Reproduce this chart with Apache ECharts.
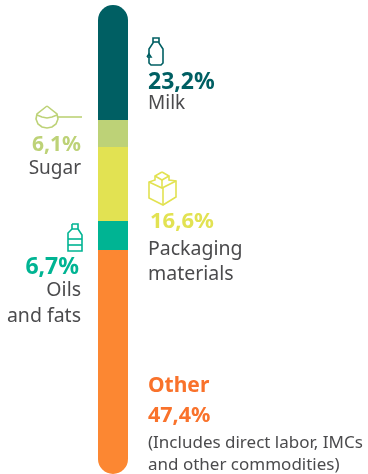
<!DOCTYPE html>
<html><head><meta charset="utf-8">
<style>html,body{margin:0;padding:0;background:#fff}#c{width:368px;height:474px}</style>
<script src="https://cdn.jsdelivr.net/npm/echarts@6/dist/echarts.min.js"></script>
</head><body><div id="c"></div>
<script>
var segmentNames = ['Milk','Sugar','Packaging materials','Oils and fats','Other'];
// lengths of the bar's segments as measured in the picture
var segmentLengths = [115, 27, 74, 29, 224];
var segmentColors = ['#005F63','#BDD277','#E2E252','#00B493','#FC8732'];
var pctLabels = ['23,2%','6,1%','16,6%','6,7%','47,4%'];

var FONT = '"Noto Sans", sans-serif', GREY = '#4B4B4D';
function t(text, x, y, size, color, weight, align){
  return {type:'text', x:x, y:y, silent:true, style:{text:text, fontFamily:FONT, fontSize:size,
    fill:color, fontWeight:weight||'normal', textAlign:align||'left', textVerticalAlign:'middle'}};
}
function icon(lines, x, y, color){
  return {type:'group', x:x, y:y, silent:true, children:lines.map(function(p){
    return {type:'polyline', silent:true, shape:{points:p}, style:{fill:null, stroke:color, lineWidth:1.6}};
  })};
}
var n = segmentLengths.length;
var series = segmentLengths.map(function(v,i){
  return {type:'bar', stack:'a', barWidth:30, name:segmentNames[i], data:[v], silent:true,
    itemStyle:{color:segmentColors[i],
      borderRadius: i===0 ? [15,15,0,0] : (i===n-1 ? [0,0,15,15] : 0)}};
});
var bottleIcon = [[[1,19],[1,25],[3,27],[13,27],[15,25],[15,11],[11,5],[11,0],[5,0],[5,5],[1,11],[1,16]],[[-1,19],[1,16],[3,19],[-1,19]],[[5,4],[11,4]]];
var boxIcon = [[[14,0],[21,4],[21,8],[28,9],[28,25],[15,33],[1,26],[1,10],[7,8],[7,4],[14,0]],[[7,4],[14,8],[21,4]],[[14,8],[14,15]],[[1,10],[14,16],[28,9]],[[15,16],[15,33]]];
var scoopIcon = [[[11,0],[21,8],[22,13],[20,18],[16,21],[11,22],[6,21],[2,18],[0,13],[1,8],[11,0]],[[1,9],[6,11],[11,12],[16,11],[21,9]],[[22,11],[46,11]]];
var oilIcon = [[[5,0],[11,0],[11,5],[5,5],[5,0]],[[5,5],[1,9],[1,27],[15,27],[15,11],[11,5]],[[1,15],[15,15]],[[1,21],[15,21]]];
var graphic = [
  icon(bottleIcon,148,38,segmentColors[0]),
  t(pctLabels[0],148,82,23,segmentColors[0],'bold'),
  t(segmentNames[0],148,104,19,GREY),
  icon(scoopIcon,36,106,segmentColors[1]),
  t(pctLabels[1],81,145,21,segmentColors[1],'bold','right'),
  t(segmentNames[1],81,169,19,GREY,'normal','right'),
  icon(boxIcon,148,172,segmentColors[2]),
  t(pctLabels[2],150,222,22,segmentColors[2],'bold'),
  t('Packaging',148,249,19.5,GREY),
  t('materials',148,274,19.5,GREY),
  icon(oilIcon,67,224,segmentColors[3]),
  t(pctLabels[3],79,267,23,segmentColors[3],'bold','right'),
  t('Oils',81,290,19.5,GREY,'normal','right'),
  t('and fats',81,316,19.5,GREY,'normal','right'),
  t(segmentNames[4],148,386,21,'#F9722B','bold'),
  t(pctLabels[4],148,416,21.5,'#F9722B','bold'),
  t('(Includes direct labor, IMCs',148,443,17,GREY),
  t('and other commodities)',148,465,17,GREY)
];
var chart = echarts.init(document.getElementById('c'),null,{renderer:'canvas'});
chart.setOption({
  animation:false,
  grid:{left:98,top:5,width:30,height:469},
  xAxis:{type:'category',data:['Cost'],show:false},
  yAxis:{type:'value',min:0,max:469,inverse:true,show:false},
  series:series,
  graphic:graphic
});
</script></body></html>
